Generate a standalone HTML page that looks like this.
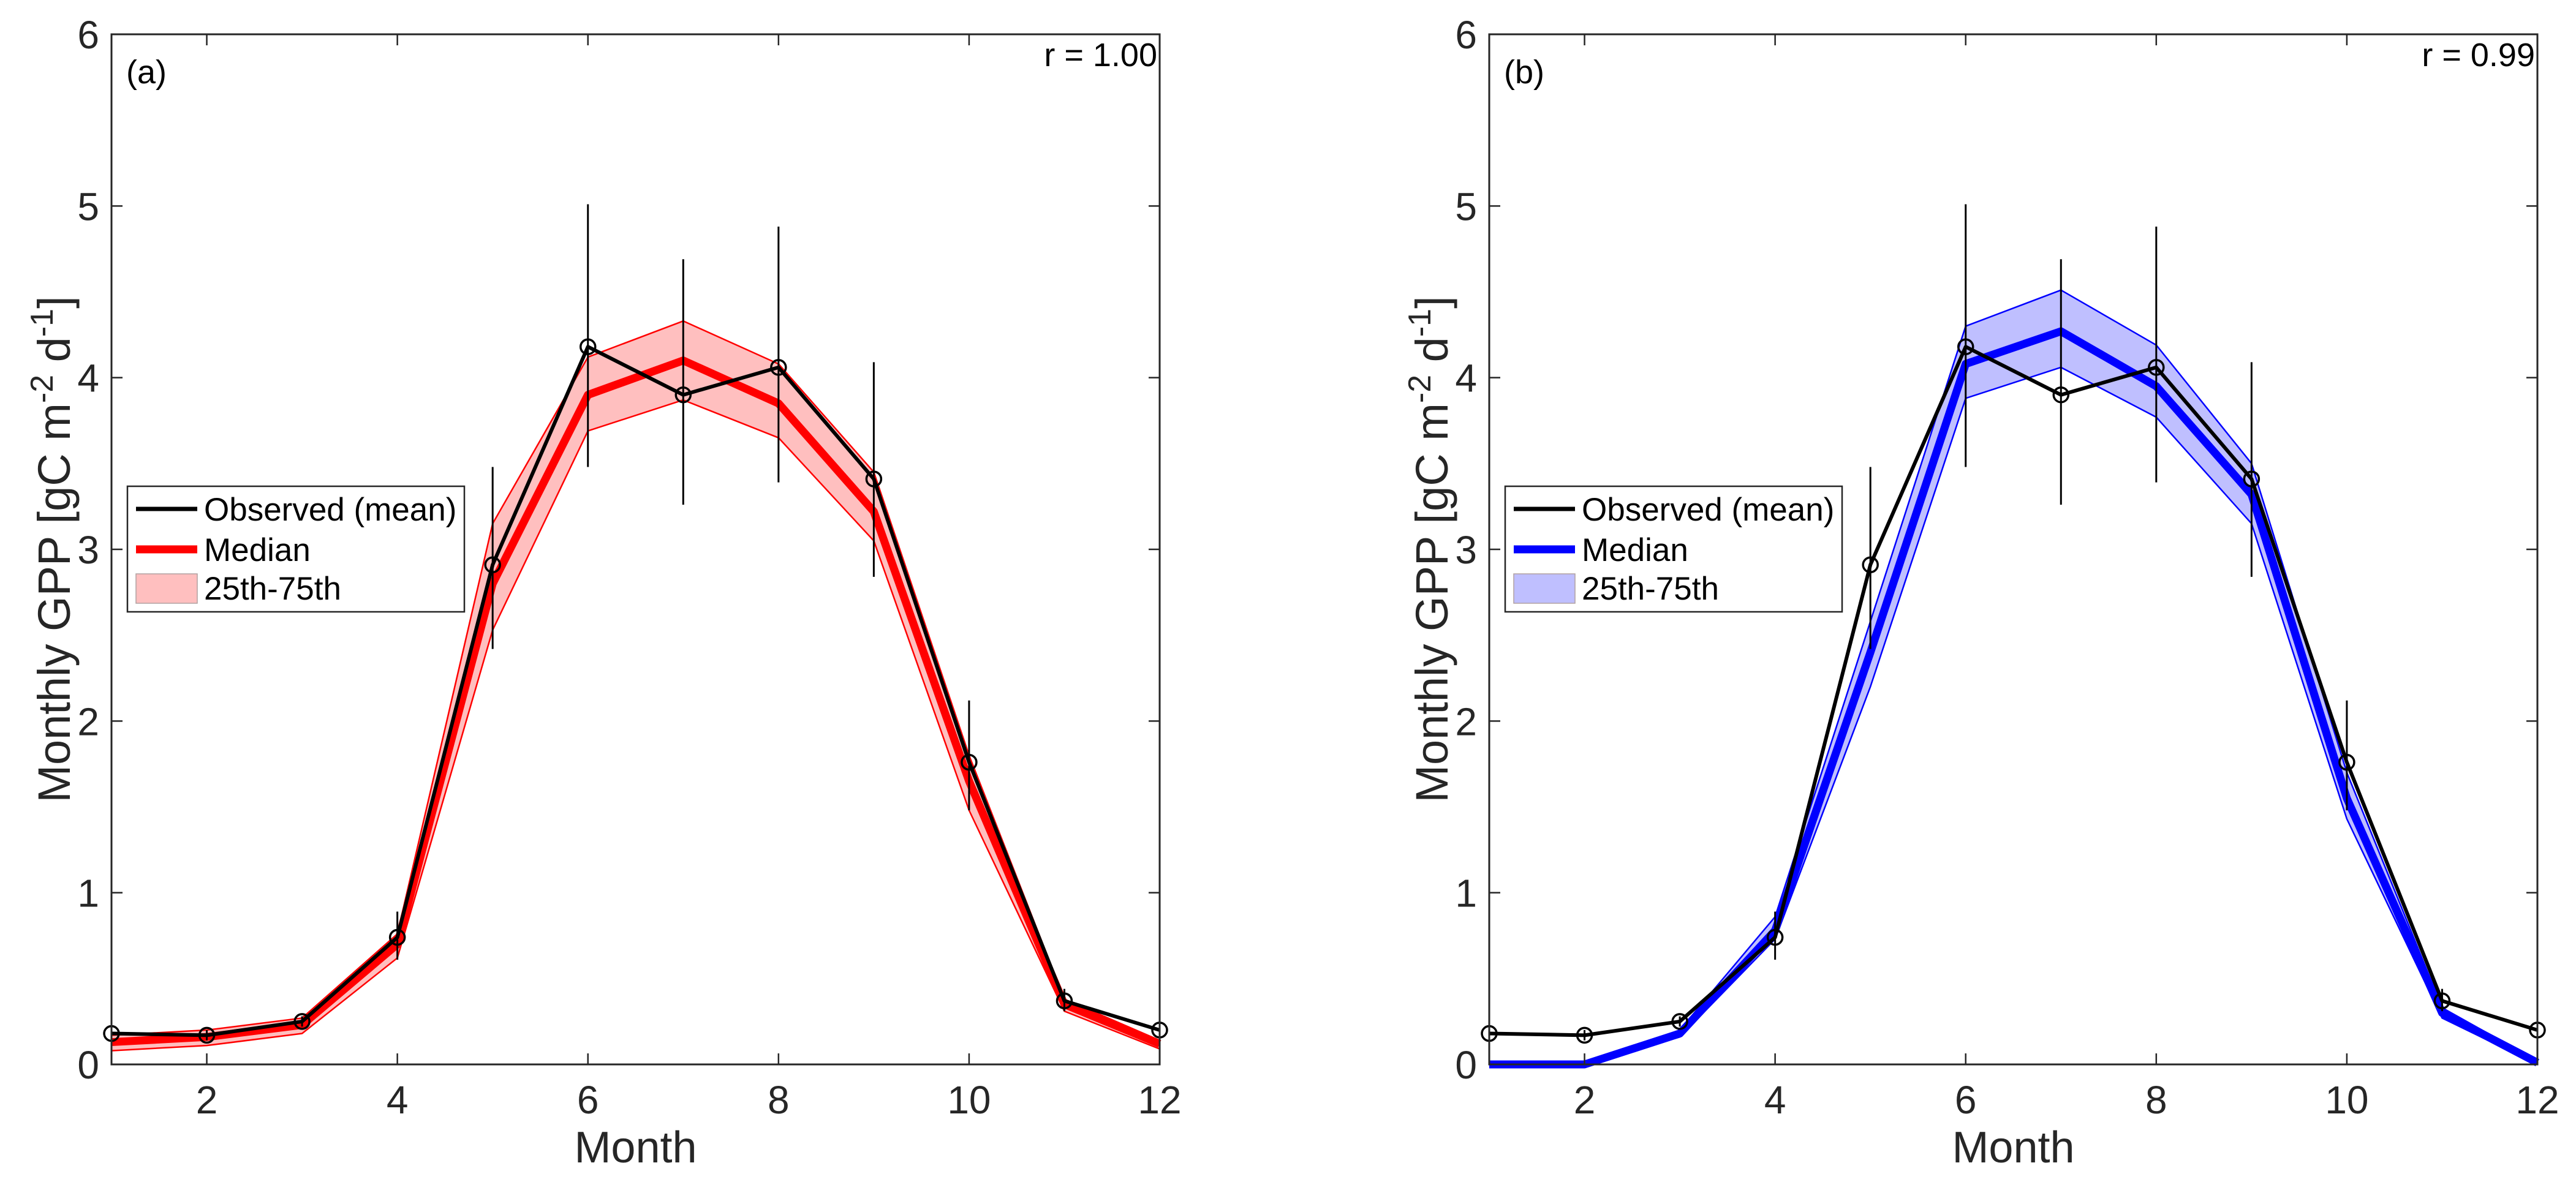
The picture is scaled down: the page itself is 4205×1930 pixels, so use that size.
<!DOCTYPE html>
<html><head><meta charset="utf-8"><style>
html,body{margin:0;padding:0;background:#fff;}
svg{display:block;font-family:"Liberation Sans",Arial,sans-serif;}
</style></head><body>
<svg id="chart" width="4205" height="1930" viewBox="0 0 4205 1930" xmlns="http://www.w3.org/2000/svg"></svg>
<script>
const months = [1,2,3,4,5,6,7,8,9,10,11,12];
const yTicks = [0,1,2,3,4,5,6];
const xTicks = [2,4,6,8,10,12];
const obsMean = [0.18,0.17,0.25,0.74,2.91,4.18,3.90,4.06,3.41,1.76,0.37,0.20];
const obsHigh = [0.20,0.20,0.28,0.89,3.48,5.01,4.69,4.88,4.09,2.12,0.44,0.22];
const obsLow  = [0.16,0.14,0.22,0.61,2.42,3.48,3.26,3.39,2.84,1.48,0.31,0.18];
const medA = [0.13,0.16,0.23,0.70,2.80,3.90,4.10,3.85,3.22,1.65,0.35,0.12];
const p25A = [0.08,0.11,0.18,0.62,2.53,3.69,3.87,3.65,3.05,1.48,0.31,0.09];
const p75A = [0.17,0.20,0.27,0.76,3.15,4.12,4.33,4.08,3.45,1.80,0.38,0.14];
const medB = [0.00,0.00,0.18,0.78,2.40,4.08,4.27,3.95,3.32,1.55,0.30,0.01];
const p25B = [0.00,0.00,0.16,0.73,2.20,3.88,4.06,3.77,3.15,1.43,0.27,0.00];
const p75B = [0.00,0.00,0.20,0.86,2.58,4.30,4.51,4.19,3.50,1.70,0.33,0.02];
const rLabels = ["r = 1.00","r = 0.99"];
const panelLabels = ["(a)","(b)"];

const NS="http://www.w3.org/2000/svg";
const svg=document.getElementById('chart');
function mk(tag,attrs,parent){const e=document.createElementNS(NS,tag);for(const k in attrs)e.setAttribute(k,attrs[k]);(parent||svg).appendChild(e);return e;}

function panel(idx,left,med,p25,p75,color,fill){
  const right=left+1711, top=56, bottom=1738;
  const sx=m=>left+(m-1)/11*(right-left);
  const sy=v=>bottom-v/6*(bottom-top);
  const g=mk('g',{});
  
  
  let d='M'+months.map((m,i)=>sx(m)+','+sy(p75[i])).join('L')+'L'+months.slice().reverse().map((m,j)=>{const i=11-j;return sx(m)+','+sy(p25[i]);}).join('L')+'Z';
  const band=mk('path',{d:d,fill:fill,stroke:color,'stroke-width':2.5,'stroke-linejoin':'round'},g);
  
  
  const ml=mk('polyline',{points:months.map((m,i)=>sx(m)+','+sy(med[i])).join(' '),fill:'none',stroke:color,'stroke-width':13,'stroke-linejoin':'round'},g);
  
  
  months.forEach((m,i)=>{
    const eb=mk('line',{x1:sx(m),x2:sx(m),y1:sy(obsHigh[i]),y2:sy(obsLow[i]),stroke:'#000','stroke-width':3},g);
    
    
  });
  const ol=mk('polyline',{points:months.map((m,i)=>sx(m)+','+sy(obsMean[i])).join(' '),fill:'none',stroke:'#000','stroke-width':6,'stroke-linejoin':'round'},g);
  
  
  months.forEach((m,i)=>{
    const c=mk('circle',{cx:sx(m),cy:sy(obsMean[i]),r:12,fill:'none',stroke:'#000','stroke-width':3.5},g);
    
    
  });
  const ax=mk('rect',{x:left,y:top,width:right-left,height:bottom-top,fill:'none',stroke:'#262626','stroke-width':3},g);
  
  
  yTicks.forEach(v=>{
    const y=sy(v);
    mk('line',{x1:left,x2:left+18,y1:y,y2:y,stroke:'#262626','stroke-width':2.5},g);
    mk('line',{x1:right,x2:right-18,y1:y,y2:y,stroke:'#262626','stroke-width':2.5},g);
    const t=mk('text',{x:left-20,y:y+23,'text-anchor':'end','font-size':64,fill:'#262626'},g);
    t.textContent=v;
    
    
  });
  xTicks.forEach(m=>{
    const x=sx(m);
    mk('line',{x1:x,x2:x,y1:bottom,y2:bottom-18,stroke:'#262626','stroke-width':2.5},g);
    mk('line',{x1:x,x2:x,y1:top,y2:top+18,stroke:'#262626','stroke-width':2.5},g);
    const t=mk('text',{x:x,y:1818,'text-anchor':'middle','font-size':64,fill:'#262626'},g);
    t.textContent=m;
    
    
  });
  const xl=mk('text',{x:(left+right)/2,y:1898,'text-anchor':'middle','font-size':72,fill:'#262626'},g);
  xl.textContent='Month';
  
  
  const yl=mk('text',{transform:'translate('+(left-68)+',897) rotate(-90)','text-anchor':'middle','font-size':74,fill:'#262626'},g);
  yl.innerHTML='Monthly GPP [gC m<tspan dy="-28" font-size="52">-2</tspan><tspan dy="28"> d</tspan><tspan dy="-28" font-size="52">-1</tspan><tspan dy="28">]</tspan>';
  
  
  const pl=mk('text',{x:left+24,y:136,'font-size':54,fill:'#000'},g);
  pl.textContent=panelLabels[idx];
  
  
  const rl=mk('text',{x:right-4,y:108,'text-anchor':'end','font-size':54,fill:'#000'},g);
  rl.textContent=rLabels[idx];
  
  
  const lx=left+26;
  const lg=mk('g',{},g);
  
  
  mk('rect',{x:lx,y:794,width:550,height:205,fill:'#fff',stroke:'#262626','stroke-width':2.5},lg);
  mk('line',{x1:lx+14,x2:lx+114,y1:831,y2:831,stroke:'#000','stroke-width':7},lg);
  mk('line',{x1:lx+14,x2:lx+114,y1:897,y2:897,stroke:color,'stroke-width':13},lg);
  mk('rect',{x:lx+14,y:937,width:100,height:48,fill:fill,stroke:'#b0a0a0','stroke-width':1.5},lg);
  const labels=['Observed (mean)','Median','25th-75th'];
  [831,897,960].forEach((y,i)=>{
    const t=mk('text',{x:lx+125,y:y+19,'font-size':53,fill:'#000'},lg);
    t.textContent=labels[i];
    
    
  });
}
panel(0,182,medA,p25A,p75A,'#ff0000','#ffbfbf');
panel(1,2431,medB,p25B,p75B,'#0000ff','#bfbfff');
</script>
</body></html>
